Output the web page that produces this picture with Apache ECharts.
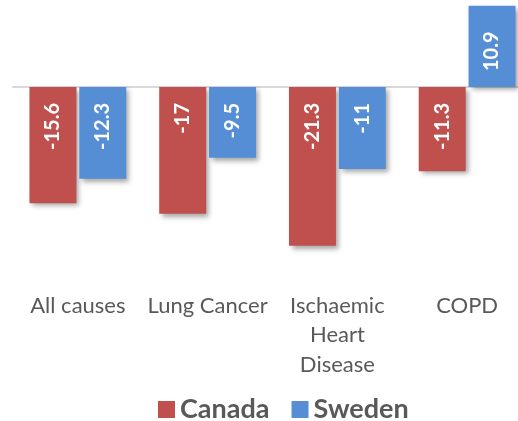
<!DOCTYPE html>
<html>
<head>
<meta charset="utf-8">
<script src="https://cdn.jsdelivr.net/npm/echarts@6/dist/echarts.min.js"></script>
<style>
  html, body { margin: 0; padding: 0; background: #fff; overflow: hidden; }
  /* plot runs past the right edge of the window, like the cropped original */
  #chart { width: 532px; height: 421px; }
</style>
</head>
<body>
<div id="chart"></div>
<script>
  var categories = ['All causes', 'Lung Cancer', 'Ischaemic\nHeart\nDisease', 'COPD'];
  var canada = [-15.6, -17, -21.3, -11.3];
  var sweden = [-12.3, -9.5, -11, 10.9];

  // label sits near the zero line, reading bottom-to-top
  function withLabels(values) {
    return values.map(function (v) {
      return {
        value: v,
        label: v < 0
          ? { position: 'insideTop', align: 'right' }
          : { position: 'insideBottom', align: 'left' }
      };
    });
  }

  var chart = echarts.init(document.getElementById('chart'));
  var font = 'Lato, "Open Sans", sans-serif';
  var barLabel = {
    show: true,
    rotate: 90,
    verticalAlign: 'middle',
    distance: 16,
    color: '#fff',
    fontFamily: font,
    fontWeight: 'bold',
    fontSize: 20
  };
  var shadow = {
    shadowBlur: 5,
    shadowOffsetX: 3,
    shadowOffsetY: 3,
    shadowColor: 'rgba(0,0,0,0.35)'
  };

  chart.setOption({
    animation: false,
    grid: { left: 13, top: 5, right: 0, height: 246 },
    legend: {
      left: 153,
      top: 391,
      icon: 'rect',
      itemWidth: 17,
      itemHeight: 17,
      itemGap: 22,
      textStyle: { color: '#595959', fontFamily: font, fontWeight: 'bold', fontSize: 27 },
      data: ['Canada', 'Sweden']
    },
    xAxis: {
      type: 'category',
      data: categories,
      axisLine: { lineStyle: { color: '#D9D9D9', width: 2 } },
      axisTick: { show: false },
      axisLabel: {
        interval: 0,
        margin: 40,
        color: '#595959',
        fontFamily: font,
        fontSize: 22,
        lineHeight: 29.5
      }
    },
    yAxis: {
      type: 'value',
      min: -22,
      max: 11,
      show: false,
      splitLine: { show: false }
    },
    series: [
      {
        name: 'Canada',
        type: 'bar',
        barWidth: 47,
        barGap: '6%',
        itemStyle: Object.assign({ color: '#C0504D' }, shadow),
        label: barLabel,
        data: withLabels(canada)
      },
      {
        name: 'Sweden',
        type: 'bar',
        barWidth: 47,
        itemStyle: Object.assign({ color: '#558ED5' }, shadow),
        label: barLabel,
        data: withLabels(sweden)
      }
    ]
  });
</script>
</body>
</html>
